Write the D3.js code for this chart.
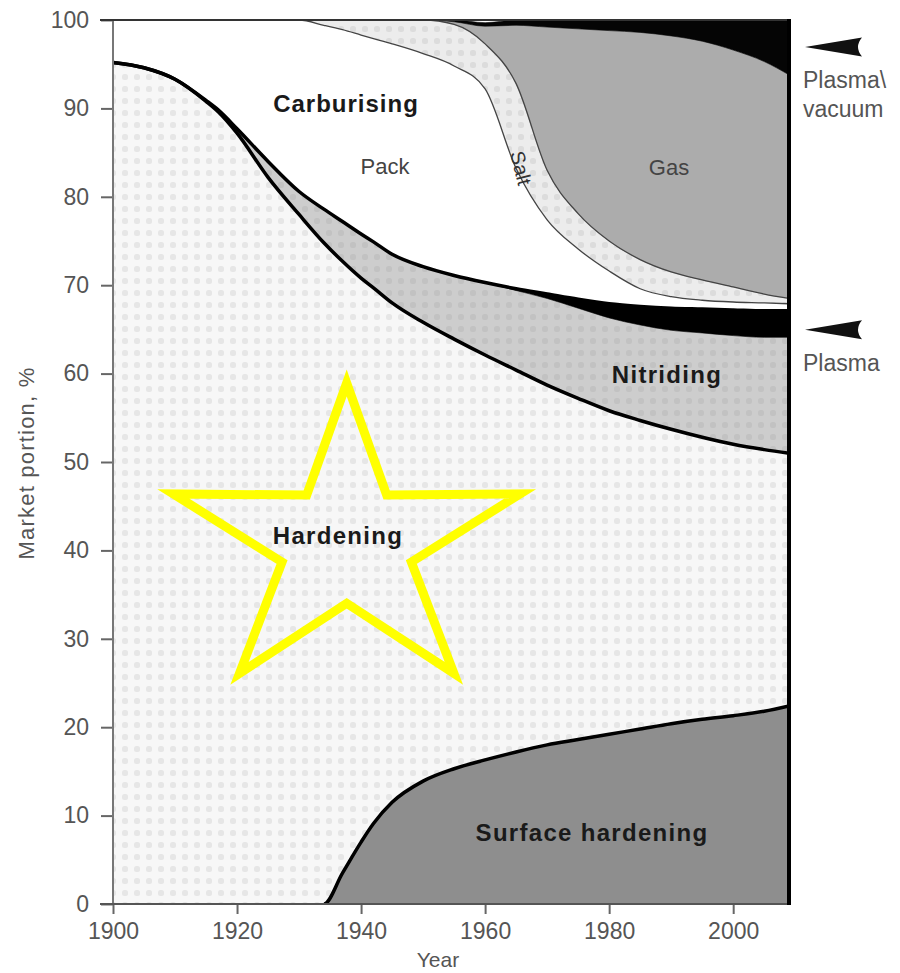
<!DOCTYPE html>
<html>
<head>
<meta charset="utf-8">
<script src="https://cdn.jsdelivr.net/npm/d3@7"></script>
<style>
  html, body { margin: 0; padding: 0; background: #fff; }
  svg { display: block; }
  text { font-family: "Liberation Sans", Arial, Helvetica, sans-serif; }
</style>
</head>
<body>
<svg id="chart" width="900" height="973"></svg>
<script>
// ---------------- data (market portion, % of each process) ----------------
const years = [1900,1905,1910,1915,1917,1920,1925,1930,1934,1937,1940,1942,1945,1950,1955,1960,1965,1970,1975,1980,1985,1990,1995,2000,2005,2009];
const surfaceHardening = [0,0,0,0,0,0,0,0,0,3.5,7.0,9.1,11.5,13.9,15.3,16.3,17.2,18.0,18.6,19.2,19.8,20.4,20.9,21.3,21.8,22.4];
const hardening        = [95.2,94.6,93.3,90.8,89.6,87.2,82.2,78.0,74.8,69.2,63.8,60.6,56.5,51.9,48.6,45.8,43.2,40.7,38.6,36.6,34.9,33.3,31.9,30.7,29.6,28.6];
const nitriding        = [0,0,0,0.1,0.2,0.5,1.8,2.6,3.8,4.5,5.0,5.2,5.5,6.3,7.2,8.2,9.0,9.8,10.2,10.5,10.8,11.2,11.8,12.3,12.7,13.1];
const plasmaNitriding  = [0,0,0,0,0,0,0,0,0,0,0,0,0,0,0,0,0.2,0.5,1.0,1.6,2.1,2.5,2.7,2.9,3.0,3.0];
const packCarburising  = [4.8,5.4,6.7,9.1,10.2,12.3,16.0,19.4,20.8,21.7,22.5,23.0,23.8,24.1,23.7,21.9,13.6,8.4,5.7,3.7,2.0,1.3,1.0,0.9,0.9,0.8];
const saltCarburising  = [0,0,0,0,0,0,0,0,0.6,1.1,1.7,2.1,2.7,3.8,4.7,5.1,9.6,5.6,4.0,3.4,3.3,2.8,2.3,1.7,1.0,0.6];
const gasCarburising   = [0,0,0,0,0,0,0,0,0,0,0,0,0,0,0.3,2.0,6.6,16.2,20.9,23.8,25.7,26.7,27.0,26.8,26.3,25.3];
const plasmaVacuum     = [0,0,0,0,0,0,0,0,0,0,0,0,0,0,0.2,0.4,0.6,0.8,1.0,1.2,1.4,1.8,2.4,3.4,4.7,6.2];

const yTicks = [0,10,20,30,40,50,60,70,80,90,100];
const xTicks = [1900,1920,1940,1960,1980,2000];
const keys = ["surface","hardening","nitriding","plasmaN","pack","salt","gas","plasmaV"];

// ---------------- table built from the arrays ----------------
const rows = years.map((yr, i) => ({
  year: yr,
  surface: surfaceHardening[i],
  hardening: hardening[i],
  nitriding: nitriding[i],
  plasmaN: plasmaNitriding[i],
  pack: packCarburising[i],
  salt: saltCarburising[i],
  gas: gasCarburising[i],
  plasmaV: plasmaVacuum[i]
}));

// ---------------- layout ----------------
const svg = d3.select("#chart");
const L = 113, R = 789, T = 20, B = 904;
const x = d3.scaleLinear().domain([1900, 2009]).range([L, R]);
const y = d3.scaleLinear().domain([0, 100]).range([B, T]);

// patterns
const defs = svg.append("defs");
function dotPattern(id, bg, dot, size) {
  const p = defs.append("pattern").attr("id", id).attr("patternUnits", "userSpaceOnUse")
    .attr("width", size).attr("height", size);
  p.append("rect").attr("width", size).attr("height", size).attr("fill", bg);
  p.append("rect").attr("x", 2).attr("y", 2).attr("width", 6).attr("height", 6)
    .attr("rx", 2.5).attr("fill", dot);
}
dotPattern("patHard", "#f7f7f7", "#e6e6e6", 12);
dotPattern("patSalt", "#ececec", "#dcdcdc", 12);
dotPattern("patNit", "#cdcdcd", "#c2c2c2", 12);

const fills = {
  surface: "#8e8e8e",
  hardening: "url(#patHard)",
  nitriding: "url(#patNit)",
  plasmaN: "#000",
  pack: "#ffffff",
  salt: "url(#patSalt)",
  gas: "#acacac",
  plasmaV: "#050505"
};

const stacked = d3.stack().keys(keys)(rows);
const curve = d3.curveMonotoneX;
const area = d3.area()
  .x(d => x(d.data.year))
  .y0(d => y(d[0]))
  .y1(d => y(d[1]))
  .curve(curve);

svg.append("g").selectAll("path").data(stacked).join("path")
  .attr("d", area)
  .attr("fill", d => fills[d.key])
  .attr("stroke", d => fills[d.key].startsWith("url") ? "none" : fills[d.key])
  .attr("stroke-width", 0.6);

const topLine = d3.line().x(d => x(d.data.year)).y(d => y(d[1])).curve(curve);
const byKey = k => stacked.find(s => s.key === k);

defs.append("clipPath").attr("id", "clipSH").append("rect")
  .attr("x", x(1934)).attr("y", T).attr("width", R - x(1934)).attr("height", B - T);

// thin boundaries (carburising subdivisions)
svg.append("path").attr("d", topLine(byKey("pack"))).attr("fill", "none")
  .attr("stroke", "#444").attr("stroke-width", 1.3);
svg.append("path").attr("d", topLine(byKey("salt"))).attr("fill", "none")
  .attr("stroke", "#444").attr("stroke-width", 1.3);

// thick boundaries
svg.append("path").attr("d", topLine(byKey("surface"))).attr("fill", "none")
  .attr("stroke", "#000").attr("stroke-width", 3.5).attr("clip-path", "url(#clipSH)");
svg.append("path").attr("d", topLine(byKey("hardening"))).attr("fill", "none")
  .attr("stroke", "#000").attr("stroke-width", 3.5);
svg.append("path").attr("d", topLine(byKey("plasmaN"))).attr("fill", "none")
  .attr("stroke", "#000").attr("stroke-width", 3.5);

// ---------------- axes ----------------
const axisColor = "#666", textColor = "#555";
const yAxis = svg.append("g").attr("transform", `translate(${L},0)`)
  .call(d3.axisLeft(y).tickValues(yTicks).tickSize(12).tickPadding(12).tickFormat(d3.format("d")));
const xAxis = svg.append("g").attr("transform", `translate(0,${B})`)
  .call(d3.axisBottom(x).tickValues(xTicks).tickSize(10).tickPadding(9).tickFormat(d3.format("d")));
[yAxis, xAxis].forEach(g => {
  g.select(".domain").remove();
  g.selectAll(".tick line").attr("stroke", axisColor).attr("stroke-width", 2);
  g.selectAll(".tick text").attr("fill", textColor).style("font-size", "23px")
    .style("font-family", "'Liberation Sans', Arial, sans-serif");
});

// axis lines and frame
svg.append("line").attr("x1", L).attr("x2", L).attr("y1", T).attr("y2", B)
  .attr("stroke", "#777").attr("stroke-width", 2);
svg.append("line").attr("x1", L - 13).attr("x2", R).attr("y1", B).attr("y2", B)
  .attr("stroke", "#555").attr("stroke-width", 2);
svg.append("line").attr("x1", L - 13).attr("x2", R).attr("y1", T).attr("y2", T)
  .attr("stroke", "#333").attr("stroke-width", 2);
svg.append("line").attr("x1", R).attr("x2", R).attr("y1", T - 1).attr("y2", B + 1)
  .attr("stroke", "#000").attr("stroke-width", 4);

// axis titles
svg.append("text").attr("transform", `translate(34,463) rotate(-90)`)
  .attr("text-anchor", "middle").attr("fill", textColor)
  .style("font-size", "22px").style("letter-spacing", "1.2px").text("Market portion, %");
svg.append("text").attr("x", 438).attr("y", 967).attr("text-anchor", "middle")
  .attr("fill", textColor).style("font-size", "21px").text("Year");

// ---------------- region labels ----------------
function label(txt, cx, cy, opts = {}) {
  const t = svg.append("text").attr("x", cx).attr("y", cy)
    .attr("text-anchor", "middle").attr("dominant-baseline", "central")
    .attr("fill", opts.color || "#1a1a1a")
    .style("font-size", (opts.size || 22) + "px")
    .style("font-weight", opts.bold ? "bold" : "normal")
    .style("letter-spacing", (opts.ls || 0) + "px")
    .text(txt);
  if (opts.rotate) t.attr("transform", `rotate(${opts.rotate},${cx},${cy})`);
  return t;
}
label("Carburising", 346, 103, { bold: true, size: 24, ls: 1 });
label("Pack", 385, 166, { color: "#444" });
label("Salt", 521, 168, { color: "#333", rotate: 76, size: 20 });
label("Gas", 669, 167, { color: "#444" });
label("Nitriding", 667, 374, { bold: true, size: 24, ls: 1.3 });
label("Hardening", 338, 535, { bold: true, size: 24, ls: 1.3 });
label("Surface hardening", 592, 832, { bold: true, size: 24, ls: 1.3 });

// right-side annotations
function arrow(cy) {
  const tipX = R + 16, tailX = R + 73;
  const p = d3.path();
  p.moveTo(tipX, cy);
  p.lineTo(tailX, cy - 9.5);
  p.quadraticCurveTo(tailX - 8, cy, tailX, cy + 9.5);
  p.closePath();
  svg.append("path").attr("d", p.toString()).attr("fill", "#111");
}
arrow(y(100) + 27);
arrow(y(67.1) + 19);
svg.append("text").attr("x", 803).attr("y", 88).attr("fill", textColor)
  .style("font-size", "23px").text("Plasma\\");
svg.append("text").attr("x", 803).attr("y", 117).attr("fill", textColor)
  .style("font-size", "23px").text("vacuum");
svg.append("text").attr("x", 803).attr("y", 371).attr("fill", textColor)
  .style("font-size", "23px").text("Plasma");

// ---------------- yellow star overlay ----------------
const starCx = 346.7, starCy = 543.5, rOut = 182.4, rIn = 68, sy = 0.88;
const starPts = d3.range(10).map(i => {
  const a = -Math.PI / 2 + i * Math.PI / 5;
  const r = i % 2 === 0 ? rOut : rIn;
  return [starCx + r * Math.cos(a), starCy + r * Math.sin(a) * sy];
});
svg.append("path")
  .attr("d", d3.line()(starPts) + "Z")
  .attr("fill", "none").attr("stroke", "#ffff00").attr("stroke-width", 9)
  .attr("stroke-linejoin", "miter").attr("stroke-miterlimit", 10);
</script>
</body>
</html>
